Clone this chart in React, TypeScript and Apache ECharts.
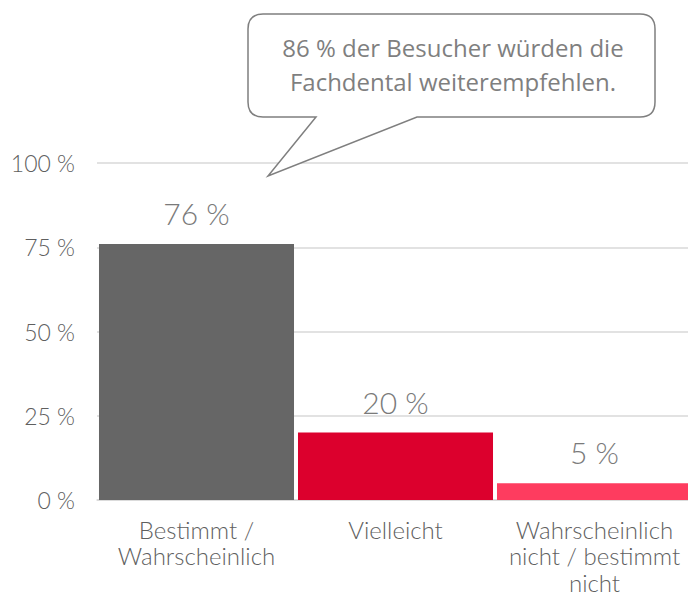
import React, { useEffect, useRef } from "react";
import * as echarts from "echarts";

const categories = ["Bestimmt /\nWahrscheinlich", "Vielleicht", "Wahrscheinlich\nnicht / bestimmt\nnicht"];
const values = [76, 20, 5];
const barColors = ["#666666", "#dc002d", "#fe3c5f"];
const yTicks = [0, 25, 50, 75, 100];
const calloutLines = ["86 % der Besucher würden die", "Fachdental weiterempfehlen."];

const calloutPath =
  "M 263 14 H 640 Q 655 14 655 29 V 102 Q 655 117 640 117 H 417 L 268 176 L 316 117 H 263 Q 248 117 248 102 V 29 Q 248 14 263 14 Z";

let registered = false;

export default function App() {
  const ref = useRef<HTMLDivElement>(null);
  useEffect(() => {
    if (!ref.current) return;
    if (!registered) {
      echarts.graphic.registerShape("callout", echarts.graphic.extendPath(calloutPath, {}));
      registered = true;
    }
    const chart = echarts.init(ref.current, null, { renderer: "svg" });
    chart.setOption({
      animation: false,
      backgroundColor: "#ffffff",
      grid: {
        left: 97,
        right: -6,
        top: 163,
        bottom: 96,
        containLabel: false,
        outerBoundsMode: "none",
      },
      xAxis: {
        type: "category",
        data: categories,
        axisLine: { show: true, lineStyle: { color: "#d9d9d9", width: 1.5 } },
        axisTick: { show: false },
        axisLabel: {
          color: "#5f5f5f",
          fontFamily: "Lato",
          fontWeight: 300,
          fontSize: 24,
          lineHeight: 26.5,
          margin: 16,
          interval: 0,
        },
      },
      yAxis: {
        type: "value",
        min: yTicks[0],
        max: yTicks[yTicks.length - 1],
        interval: 25,
        axisLine: { show: false },
        axisTick: { show: false },
        splitLine: { lineStyle: { color: "#d9d9d9", width: 1.5 } },
        axisLabel: {
          color: "#5f5f5f",
          fontFamily: "Lato",
          fontWeight: 300,
          fontSize: 23,
          margin: 22,
          formatter: "{value} %",
        },
      },
      series: [
        {
          type: "bar",
          data: values.map((v, i) => ({ value: v, itemStyle: { color: barColors[i] } })),
          barCategoryGap: "2%",
          label: {
            show: true,
            position: "top",
            distance: 16,
            formatter: "{c} %",
            color: "#7a7a7a",
            fontFamily: "Lato",
            fontWeight: 300,
            fontSize: 30,
          },
        },
      ],
      graphic: [
        {
          type: "callout",
          x: 0,
          y: 0,
          z: 10,
          style: { fill: "#ffffff", stroke: "#7f7f7f", lineWidth: 1.5 },
        },
        {
          type: "text",
          x: 453,
          y: 47,
          z: 11,
          style: {
            text: calloutLines[0],
            fill: "#7f7f7f",
            font: '24px "Open Sans"',
            align: "center",
            verticalAlign: "middle",
          },
        },
        {
          type: "text",
          x: 453,
          y: 81,
          z: 11,
          style: {
            text: calloutLines[1],
            fill: "#7f7f7f",
            font: '24px "Open Sans"',
            align: "center",
            verticalAlign: "middle",
          },
        },
      ],
    });
    return () => chart.dispose();
  }, []);
  return <div ref={ref} style={{ position: "absolute", left: 0, top: 0, width: 688, height: 596 }} />;
}
